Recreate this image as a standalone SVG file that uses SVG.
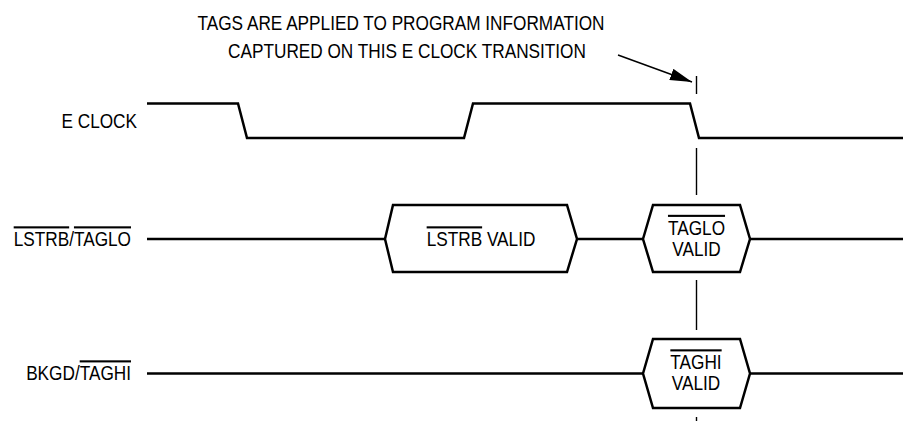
<svg xmlns="http://www.w3.org/2000/svg" width="903" height="421" viewBox="0 0 903 421">
<style>
.t{font-family:"Liberation Sans",Arial,sans-serif;font-size:21px;fill:#000}
.m{text-anchor:middle}
.e{text-anchor:end}
.ov{text-decoration:overline}
.sig{fill:none;stroke:#000;stroke-width:2.5;stroke-linejoin:miter}
.box{fill:#fff;stroke:#000;stroke-width:2.5;stroke-linejoin:miter}
.dash{stroke:#000;stroke-width:1.4}
.arr{stroke:#000;stroke-width:1.5;fill:none}
</style>
<defs>
<marker id="ah" viewBox="0 0 22 12" refX="22" refY="6" markerWidth="22" markerHeight="12" markerUnits="userSpaceOnUse" orient="auto">
<path d="M0,0 L22,6 L0,12 z" fill="#000"/>
</marker>
</defs>
<g id="title">
<text class="t m" transform="translate(401,30) scale(0.82,1)">TAGS ARE APPLIED TO PROGRAM INFORMATION</text>
<text class="t m" transform="translate(407,58) scale(0.82,1)">CAPTURED ON THIS E CLOCK TRANSITION</text>
</g>
<g id="connectors">
<line class="arr" x1="618" y1="55" x2="692" y2="82" marker-end="url(#ah)"/>
<line class="dash" x1="696.5" y1="76" x2="696.5" y2="94"/>
<line class="dash" x1="696.5" y1="148" x2="696.5" y2="195"/>
<line class="dash" x1="696.5" y1="280" x2="696.5" y2="330"/>
<line class="dash" x1="696.5" y1="417" x2="696.5" y2="421"/>
</g>
<g id="eclock">
<text class="t e" transform="translate(137,128) scale(0.82,1)">E CLOCK</text>
<polyline class="sig" points="147,103.5 238,103.5 247,138 464,138 473,103.5 690,103.5 699,138 903,138"/>
</g>
<g id="lstrb">
<text class="t e" transform="translate(131,246) scale(0.82,1)"><tspan class="ov">LSTRB</tspan>/<tspan class="ov">TAGLO</tspan></text>
<line class="sig" x1="147" y1="239" x2="385" y2="239"/>
<line class="sig" x1="577" y1="239" x2="643" y2="239"/>
<line class="sig" x1="750" y1="239" x2="903" y2="239"/>
</g>
<g id="lstrb-valid">
<polygon class="box" points="385,239 393,205 567,205 577,239 567,272 393,272"/>
<text class="t m" transform="translate(481,246) scale(0.82,1)"><tspan class="ov">LSTRB</tspan> VALID</text>
</g>
<g id="taglo-valid">
<polygon class="box" points="643,239 653,205 740,205 750,239 740,272 653,272"/>
<text class="t m" transform="translate(696.5,234.5) scale(0.82,1)"><tspan class="ov">TAGLO</tspan></text>
<text class="t m" transform="translate(696.5,255.5) scale(0.82,1)">VALID</text>
</g>
<g id="bkgd">
<text class="t e" transform="translate(131,380) scale(0.82,1)">BKGD/<tspan class="ov">TAGHI</tspan></text>
<line class="sig" x1="147" y1="373.5" x2="643" y2="373.5"/>
<line class="sig" x1="750" y1="373.5" x2="903" y2="373.5"/>
</g>
<g id="taghi-valid">
<polygon class="box" points="643,373.5 653,339 740,339 750,373.5 740,408 653,408"/>
<text class="t m" transform="translate(696,369) scale(0.82,1)"><tspan class="ov">TAGHI</tspan></text>
<text class="t m" transform="translate(696,390) scale(0.82,1)">VALID</text>
</g>
</svg>
